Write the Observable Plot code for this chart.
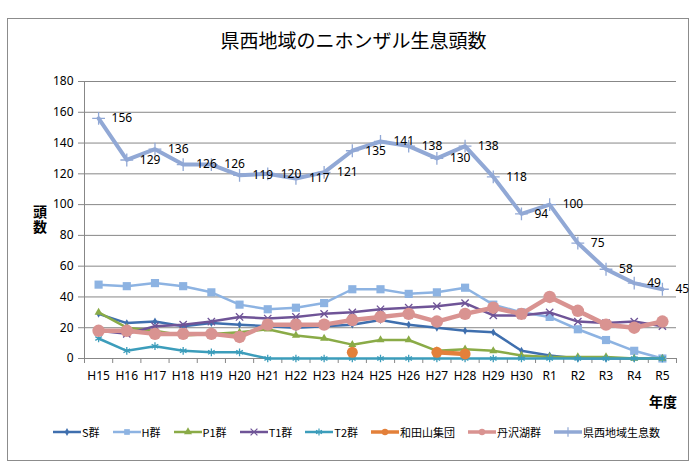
<!DOCTYPE html>
<html>
<head>
<meta charset="utf-8">
<script src="https://cdn.jsdelivr.net/npm/d3@7"></script>
<script src="https://cdn.jsdelivr.net/npm/@observablehq/plot@0.6"></script>
<style>
  html, body { margin: 0; padding: 0; background: #fff; }
  body { width: 699px; height: 469px; position: relative; overflow: hidden;
         font-family: "Noto Sans", "Noto Sans CJK JP", sans-serif; color: #000; }
  #frame { position: absolute; left: 7px; top: 18px; width: 680px; height: 441px; border: 1px solid #8c8c8c; }
  #chart { position: absolute; left: 0; top: 0; }
  #title { position: absolute; top: 27px; left: 0; width: 707px; text-align: center;
           font-family: "Noto Sans CJK JP", sans-serif; font-size: 19px; line-height: 26px; }
  #ytitle { position: absolute; left: 32px; top: 205px; writing-mode: vertical-rl;
            font-family: "Noto Sans CJK JP", sans-serif; font-weight: bold; font-size: 14px;
            line-height: 15px; letter-spacing: 1px; }
  #xtitle { position: absolute; right: 22px; top: 391px; font-family: "Noto Sans CJK JP", sans-serif;
            font-weight: bold; font-size: 14px; line-height: 20px; }
  #legend { position: absolute; left: 0; width: 713px; top: 423px; display: flex; justify-content: center;
            gap: 13px; font-family: "Noto Sans CJK JP", sans-serif; font-size: 11px; line-height: 18px; }
  #legend .item { display: flex; align-items: center; }
  #legend svg { display: block; margin-right: 1px; }
</style>
</head>
<body>
<div id="frame"></div>
<div id="chart"></div>
<div id="title">県西地域のニホンザル生息頭数</div>
<div id="ytitle">頭数</div>
<div id="xtitle">年度</div>
<div id="legend"></div>
<script>
// ---- data ----
const years = ["H15","H16","H17","H18","H19","H20","H21","H22","H23","H24","H25","H26","H27","H28","H29","H30","R1","R2","R3","R4","R5"];
const seriesNames = ["S群","H群","P1群","T1群","T2群","和田山集団","丹沢湖群","県西地域生息数"];
const sGroup    = [29,23,24,21,23,22,21,20,21,22,25,22,20,18,17,5,2,0,0,0,0];
const hGroup    = [48,47,49,47,43,35,32,33,36,45,45,42,43,46,35,30,27,19,12,5,0];
const p1Group   = [30,20,18,15,16,17,19,15,13,9,12,12,5,6,5,2,1,1,1,0,0];
const t1Group   = [18,16,21,22,24,27,26,27,29,30,32,33,34,36,28,28,30,24,23,24,21];
const t2Group   = [13,5,8,5,4,4,0,0,0,0,0,0,0,0,0,0,0,0,0,0,0];
const wadayama  = [null,null,null,null,null,null,null,null,null,4,null,null,4,3,null,null,null,null,null,null,null];
const tanzawako = [18,18,16,16,16,14,22,22,22,25,27,29,24,29,33,29,40,31,22,20,24];
const totals    = [156,129,136,126,126,119,120,117,121,135,141,138,130,138,118,94,100,75,58,49,45];
const yTicks = [0,20,40,60,80,100,120,140,160,180];

// ---- styles (per series) ----
const seriesValues = [sGroup, hGroup, p1Group, t1Group, t2Group, wadayama, tanzawako, totals];
const seriesStyle = [
  {color: "#3f6fae", symbol: "diamond",  filled: true,  r: 2.4, lw: 2.5},
  {color: "#8db3e2", symbol: "square",   filled: true,  r: 4.6, lw: 2.5},
  {color: "#8aab47", symbol: "triangle", filled: true,  r: 3.0, lw: 2.5},
  {color: "#6f5497", symbol: "times",    filled: false, r: 3.4, lw: 2.5},
  {color: "#3c9dbb", symbol: "asterisk", filled: false, r: 3.6, lw: 2.5},
  {color: "#e3803a", symbol: "circle",   filled: true,  r: 5.5, lw: 4.5},
  {color: "#d99391", symbol: "circle",   filled: true,  r: 6.2, lw: 4.5},
  {color: "#91a8d5", symbol: "plus",     filled: false, r: 4.2, lw: 4}
];

const FONT = '"Noto Sans", "Noto Sans CJK JP", sans-serif';
const GRID = "#878787";

const marks = [
  Plot.ruleY(yTicks, {stroke: GRID, strokeWidth: 1}),
  Plot.ruleX([-0.5], {stroke: GRID, strokeWidth: 1}),
  Plot.axisY({ticks: yTicks, tickSize: 6, tickPadding: 5, stroke: GRID, color: "#000", label: null}),
  Plot.axisX({ticks: d3.range(-0.5, years.length, 1), tickSize: 5, stroke: GRID, tickFormat: () => "", label: null}),
  Plot.axisX({ticks: d3.range(years.length), tickSize: 0, tickPadding: 13, color: "#000",
              tickFormat: i => years[Math.round(i)], label: null})
];

seriesValues.forEach((vals, k) => {
  const st = seriesStyle[k];
  const rows = vals.map((v, i) => ({i, v: v == null ? NaN : v}));
  marks.push(Plot.line(rows, {x: "i", y: "v", stroke: st.color, strokeWidth: st.lw,
                              strokeLinejoin: "round", strokeLinecap: "round"}));
  const pts = rows.filter(d => !isNaN(d.v));
  marks.push(Plot.dot(pts, st.filled
    ? {x: "i", y: "v", symbol: st.symbol, r: st.r, fill: st.color, stroke: "none"}
    : {x: "i", y: "v", symbol: st.symbol, r: st.r, fill: "none", stroke: st.color, strokeWidth: 1.3}));
});

marks.push(Plot.text(totals.map((v, i) => ({i, v})), {
  x: "i", y: "v", text: d => String(d.v), dx: 13, textAnchor: "start", fill: "#000", fontSize: 12
}));

const chart = Plot.plot({
  width: 699, height: 420,
  marginTop: 81, marginLeft: 84, marginRight: 23, marginBottom: 62,
  style: {background: "transparent", fontFamily: FONT, fontSize: "12px", color: "#000", overflow: "visible"},
  x: {type: "linear", domain: [-0.5, years.length - 0.5]},
  y: {type: "linear", domain: [0, 180]},
  marks
});
document.getElementById("chart").appendChild(chart);

// ---- legend ----
const legend = d3.select("#legend");
const symMap = {diamond: d3.symbolDiamond, square: d3.symbolSquare, triangle: d3.symbolTriangle,
                times: d3.symbolTimes, asterisk: d3.symbolAsterisk, circle: d3.symbolCircle, plus: d3.symbolPlus};
seriesNames.forEach((name, k) => {
  const st = seriesStyle[k];
  const item = legend.append("div").attr("class", "item");
  const svg = item.append("svg").attr("width", 28).attr("height", 12);
  svg.append("line").attr("x1", 0).attr("x2", 28).attr("y1", 6).attr("y2", 6)
     .attr("stroke", st.color).attr("stroke-width", Math.min(st.lw, 3.5));
  const rr = Math.min(st.r, 3.2);
  const p = svg.append("path").attr("transform", "translate(14,6)")
     .attr("d", d3.symbol(symMap[st.symbol], Math.PI * rr * rr)());
  if (st.filled) p.attr("fill", st.color); else p.attr("fill", "none").attr("stroke", st.color).attr("stroke-width", 1.2);
  item.append("span").text(name);
});
</script>
</body>
</html>
